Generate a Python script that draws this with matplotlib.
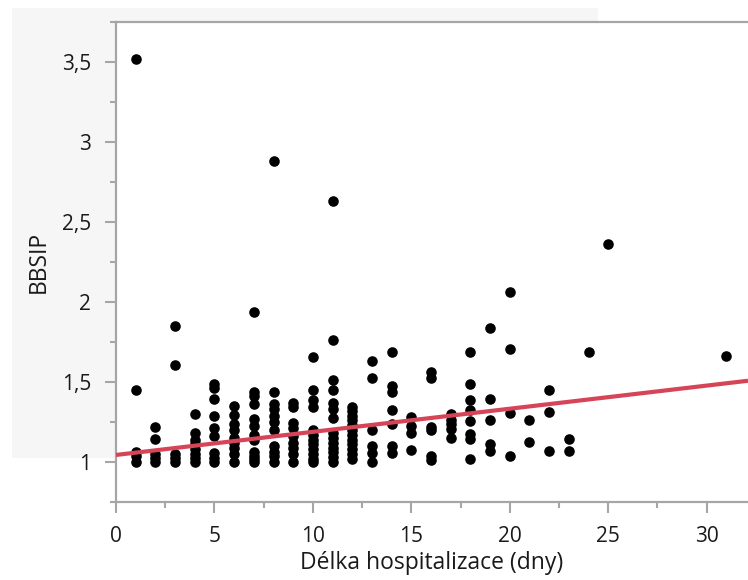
import matplotlib
matplotlib.use("Agg")
import matplotlib.pyplot as plt
from matplotlib.patches import Rectangle
from matplotlib.ticker import MultipleLocator, FuncFormatter

# Data: BBSIP values per length of hospitalization (days)
col_days = [1, 2, 3, 4, 5, 6, 7, 8, 9, 10, 11, 12, 13, 14, 15, 16, 17, 18, 19, 20, 21, 22, 23, 24, 25, 31]
col_values = [
    [3.52, 1.45, 1.065, 1.035, 1.0],
    [1.22, 1.145, 1.05, 1.025, 1.0],
    [1.85, 1.605, 1.05, 1.025, 1.0],
    [1.30, 1.18, 1.14, 1.11, 1.08, 1.05, 1.025, 1.0],
    [1.49, 1.46, 1.395, 1.285, 1.21, 1.165, 1.055, 1.025, 1.0],
    [1.35, 1.295, 1.235, 1.2, 1.15, 1.12, 1.09, 1.05, 1.0],
    [1.94, 1.435, 1.41, 1.365, 1.27, 1.225, 1.17, 1.14, 1.065, 1.04, 1.02, 1.0],
    [2.88, 1.435, 1.36, 1.33, 1.285, 1.25, 1.2, 1.1, 1.065, 1.035, 1.0],
    [1.37, 1.345, 1.245, 1.21, 1.16, 1.12, 1.09, 1.05, 1.0],
    [1.655, 1.45, 1.39, 1.345, 1.2, 1.17, 1.14, 1.11, 1.08, 1.05, 1.02, 1.0],
    [2.63, 1.76, 1.51, 1.45, 1.37, 1.33, 1.275, 1.18, 1.15, 1.12, 1.09, 1.06, 1.03, 1.0],
    [1.345, 1.32, 1.29, 1.26, 1.23, 1.2, 1.17, 1.14, 1.11, 1.08, 1.05, 1.02],
    [1.63, 1.525, 1.2, 1.1, 1.055, 1.0],
    [1.69, 1.475, 1.44, 1.325, 1.24, 1.1, 1.055],
    [1.28, 1.225, 1.18, 1.075],
    [1.565, 1.525, 1.22, 1.2, 1.035, 1.015],
    [1.3, 1.265, 1.235, 1.205, 1.15],
    [1.69, 1.49, 1.385, 1.325, 1.255, 1.175, 1.145, 1.02],
    [1.835, 1.395, 1.265, 1.115, 1.07],
    [2.06, 1.705, 1.305, 1.035],
    [1.26, 1.125],
    [1.45, 1.31, 1.07],
    [1.145, 1.07],
    [1.69],
    [2.365],
    [1.665],
]
fit_intercept = 1.044
fit_slope = 0.01445

x_label = "Délka hospitalizace (dny)"
y_label = "BBSIP"

days = []
bbsip = []
for d, vals in zip(col_days, col_values):
    for v in vals:
        days.append(d)
        bbsip.append(v)

plt.rcParams['font.family'] = ['Open Sans', 'DejaVu Sans']

W, H = 748, 580
fig = plt.figure(figsize=(W / 100, H / 100), dpi=100)
bg = Rectangle((12 / W, 1 - 458 / H), (598 - 12) / W, (458 - 8) / H,
               transform=fig.transFigure, facecolor='#f6f6f6',
               edgecolor='none', zorder=-10)
fig.patches.append(bg)

ax = fig.add_axes([116 / W, 78 / H, 632 / W, 480 / H])
ax.set_zorder(1)
ax.set_facecolor('white')
xmax = 32.1
ax.set_xlim(0, xmax)
ax.set_ylim(0.75, 3.75)

ax.scatter(days, bbsip, s=58, color='black', zorder=3, linewidths=0)
xs = [0, xmax]
ax.plot(xs, [fit_intercept + fit_slope * x for x in xs], color='#d64557', lw=3.0, zorder=4,
        solid_capstyle='butt')

spine_c = '#a6a6a6'
ax.spines['right'].set_visible(False)
for s in ['left', 'bottom', 'top']:
    ax.spines[s].set_color(spine_c)
    ax.spines[s].set_linewidth(1.6)

ax.xaxis.set_major_locator(MultipleLocator(5))
ax.xaxis.set_minor_locator(MultipleLocator(2.5))
ax.yaxis.set_major_locator(MultipleLocator(0.5))
ax.yaxis.set_minor_locator(MultipleLocator(0.25))
fmt = FuncFormatter(lambda v, p: (('%g' % v).replace('.', ',')))
ax.xaxis.set_major_formatter(fmt)
ax.yaxis.set_major_formatter(fmt)
ax.tick_params(which='major', length=8, width=1.5, color=spine_c, labelsize=15,
               labelcolor='#1a1a1a')
ax.tick_params(which='minor', length=4.3, width=1.5, color=spine_c)
ax.tick_params(axis='x', which='major', pad=9)
ax.tick_params(axis='y', which='major', pad=10)
ax.set_xlabel(x_label, fontsize=16.5, color='#1a1a1a', labelpad=3)
ax.set_ylabel(y_label, fontsize=16.5, color='#1a1a1a', labelpad=8)

fig.savefig('out.png', dpi=100)
